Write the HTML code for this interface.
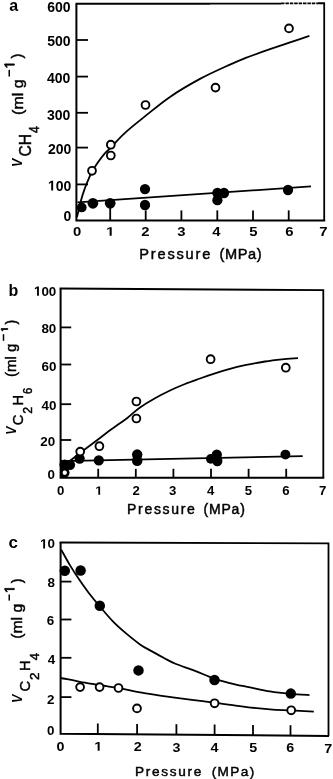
<!DOCTYPE html>
<html><head><meta charset="utf-8"><style>
html,body{margin:0;padding:0;background:#fff;width:333px;height:779px;overflow:hidden}
svg{display:block;filter:grayscale(1)}
text{font-family:"Liberation Sans",sans-serif;fill:#000}
</style></head><body>
<svg width="333" height="779" viewBox="0 0 333 779">
<rect width="333" height="779" fill="#fff"/>
<path d="M76.4,3.9 V220.5 H325.2" fill="none" stroke="#000" stroke-width="2.0"/>
<path d="M324.2,3.0 V220.5" fill="none" stroke="#000" stroke-width="1.8"/>
<path d="M75.5,3.7 H210 M210,3.6 H281 M318,3.3 H325" fill="none" stroke="#000" stroke-width="1.9"/>
<path d="M281,3.3 H318" fill="none" stroke="#000" stroke-width="1.8" stroke-dasharray="3.5 0.9"/>
<line x1="76.4" y1="184.4" x2="88.0" y2="184.4" stroke="#000" stroke-width="1.80"/>
<line x1="76.4" y1="147.6" x2="88.0" y2="147.6" stroke="#000" stroke-width="1.80"/>
<line x1="76.4" y1="112.8" x2="88.0" y2="112.8" stroke="#000" stroke-width="1.80"/>
<line x1="76.4" y1="76.6" x2="88.0" y2="76.6" stroke="#000" stroke-width="1.80"/>
<line x1="76.4" y1="40.0" x2="88.0" y2="40.0" stroke="#000" stroke-width="1.80"/>
<line x1="110.2" y1="220.5" x2="110.2" y2="207.5" stroke="#000" stroke-width="1.80"/>
<line x1="145.7" y1="220.5" x2="145.7" y2="210.4" stroke="#000" stroke-width="1.80"/>
<line x1="181.4" y1="220.5" x2="181.4" y2="210.4" stroke="#000" stroke-width="1.80"/>
<line x1="217.3" y1="220.5" x2="217.3" y2="210.4" stroke="#000" stroke-width="1.80"/>
<line x1="253.0" y1="220.5" x2="253.0" y2="210.4" stroke="#000" stroke-width="1.80"/>
<line x1="288.7" y1="220.5" x2="288.7" y2="210.4" stroke="#000" stroke-width="1.80"/>
<g transform="translate(70.60,11.60) scale(1.000,1)">
<text x="0.0" y="0.0" font-size="14.0" font-weight="bold" text-anchor="end" >600</text>
</g>
<g transform="translate(70.60,46.40) scale(1.000,1)">
<text x="0.0" y="0.0" font-size="14.0" font-weight="bold" text-anchor="end" >500</text>
</g>
<g transform="translate(70.30,83.10) scale(1.000,1)">
<text x="0.0" y="0.0" font-size="14.0" font-weight="bold" text-anchor="end" >400</text>
</g>
<g transform="translate(70.30,119.60) scale(1.000,1)">
<text x="0.0" y="0.0" font-size="14.0" font-weight="bold" text-anchor="end" >300</text>
</g>
<g transform="translate(71.30,153.70) scale(1.000,1)">
<text x="0.0" y="0.0" font-size="14.0" font-weight="bold" text-anchor="end" >200</text>
</g>
<g transform="translate(71.30,190.50) scale(1.000,1)">
<text x="0.0" y="0.0" font-size="14.0" font-weight="bold" text-anchor="end" >&#8199;00</text>
<path d="M-20.09,0.00 L-20.09,-8.00 L-22.40,-6.56 L-22.40,-8.07 L-19.99,-9.63 L-18.17,-9.63 L-18.17,0.00 Z" fill="#000"/>
</g>
<g transform="translate(71.30,220.50) scale(1.000,1)">
<text x="0.0" y="0.0" font-size="14.0" font-weight="bold" text-anchor="end" >0</text>
</g>
<g transform="translate(77.25,235.80) scale(1.180,1)">
<text x="0.0" y="0.0" font-size="12.6" font-weight="bold" text-anchor="middle" >0</text>
</g>
<g transform="translate(110.30,235.80) scale(1.180,1)">
<path d="M-0.56,0.00 L-0.56,-7.20 L-2.64,-5.90 L-2.64,-7.26 L-0.47,-8.67 L1.17,-8.67 L1.17,0.00 Z" fill="#000"/>
</g>
<g transform="translate(145.30,235.80) scale(1.180,1)">
<text x="0.0" y="0.0" font-size="12.6" font-weight="bold" text-anchor="middle" >2</text>
</g>
<g transform="translate(181.50,235.80) scale(1.180,1)">
<text x="0.0" y="0.0" font-size="12.6" font-weight="bold" text-anchor="middle" >3</text>
</g>
<g transform="translate(216.40,235.80) scale(1.180,1)">
<text x="0.0" y="0.0" font-size="12.6" font-weight="bold" text-anchor="middle" >4</text>
</g>
<g transform="translate(253.50,235.80) scale(1.180,1)">
<text x="0.0" y="0.0" font-size="12.6" font-weight="bold" text-anchor="middle" >5</text>
</g>
<g transform="translate(289.45,235.80) scale(1.180,1)">
<text x="0.0" y="0.0" font-size="12.6" font-weight="bold" text-anchor="middle" >6</text>
</g>
<g transform="translate(323.40,235.80) scale(1.180,1)">
<text x="0.0" y="0.0" font-size="12.6" font-weight="bold" text-anchor="middle" >7</text>
</g>
<text x="139.3" y="258.5" font-size="14.6" font-weight="normal" text-anchor="start" textLength="70.96" lengthAdjust="spacing" stroke="#000" stroke-width="0.45">Pressure</text>
<text x="219.5" y="258.5" font-size="14.6" font-weight="normal" text-anchor="start" textLength="42.2" lengthAdjust="spacing" stroke="#000" stroke-width="0.45">(MPa)</text>
<text x="9.2" y="11.0" font-size="16.0" font-weight="bold" text-anchor="start" >a</text>
<text transform="translate(21.7,167.0) rotate(-90)" font-size="15.0" font-weight="bold" font-style="italic" textLength="8.3" lengthAdjust="spacingAndGlyphs">V</text>
<text transform="translate(30.5,156.6) rotate(-90)" font-size="16.0" font-weight="normal" font-style="normal" textLength="22.6" lengthAdjust="spacingAndGlyphs" stroke="#000" stroke-width="0.45">CH</text>
<text transform="translate(38.5,133.0) rotate(-90)" font-size="14.5" font-weight="normal" font-style="normal" textLength="6.9" lengthAdjust="spacingAndGlyphs" stroke="#000" stroke-width="0.45">4</text>
<text transform="translate(23.2,114.9) rotate(-90)" font-size="14.5" font-weight="normal" font-style="normal" textLength="35.4" lengthAdjust="spacingAndGlyphs" stroke="#000" stroke-width="0.45">(ml g</text>
<rect x="8.50" y="69.90" width="1.50" height="6.60" fill="#000"/>
<path d="M14.30,65.13 L5.87,65.13 L7.42,67.30 L6.26,67.30 L4.70,65.03 L4.70,63.90 L14.30,63.90 Z" fill="#000" stroke="#000" stroke-width="0.80"/>
<text transform="translate(22.0,58.6) rotate(-90)" font-size="14.5" font-weight="normal" font-style="normal" stroke="#000" stroke-width="0.45">)</text>
<path d="M77.0,217.0 C77.7,214.1 79.9,204.4 81.2,199.7 C82.5,194.9 83.5,192.2 84.8,188.5 C86.1,184.8 88.1,180.2 89.3,177.4 C90.5,174.6 90.5,174.0 92.0,171.5 C93.5,169.0 96.0,165.2 98.0,162.3 C100.0,159.4 101.9,156.7 104.0,154.3 C106.1,151.9 107.0,151.4 110.5,147.8 C114.0,144.2 119.2,138.1 125.0,132.8 C130.8,127.5 138.0,121.9 145.5,115.9 C153.0,109.9 160.9,103.1 170.0,96.9 C179.1,90.7 190.0,84.3 200.0,78.9 C210.0,73.5 222.5,68.0 230.0,64.6 C237.5,61.1 238.3,60.8 245.0,58.2 C251.7,55.6 262.5,51.8 270.0,49.2 C277.5,46.6 283.4,44.6 290.0,42.4 C296.6,40.2 306.2,37.0 309.4,35.9" fill="none" stroke="#000" stroke-width="1.80"/>
<line x1="77.5" y1="202.3" x2="311.0" y2="186.4" stroke="#000" stroke-width="1.80"/>
<circle cx="81.7" cy="207.4" r="4.92" fill="#000"/>
<circle cx="92.9" cy="203.3" r="5.35" fill="#000"/>
<circle cx="110.2" cy="203.3" r="5.35" fill="#000"/>
<circle cx="145.0" cy="189.1" r="5.14" fill="#000"/>
<circle cx="145.0" cy="205.0" r="5.14" fill="#000"/>
<circle cx="217.4" cy="193.0" r="5.14" fill="#000"/>
<circle cx="217.4" cy="200.2" r="5.14" fill="#000"/>
<circle cx="224.0" cy="193.0" r="5.14" fill="#000"/>
<circle cx="288.0" cy="190.0" r="5.14" fill="#000"/>
<circle cx="92.0" cy="170.8" r="3.90" fill="#fff" stroke="#000" stroke-width="1.90"/>
<circle cx="110.8" cy="144.7" r="3.90" fill="#fff" stroke="#000" stroke-width="1.90"/>
<circle cx="110.8" cy="155.5" r="3.90" fill="#fff" stroke="#000" stroke-width="1.90"/>
<circle cx="145.5" cy="105.0" r="3.90" fill="#fff" stroke="#000" stroke-width="1.90"/>
<circle cx="215.5" cy="87.6" r="3.90" fill="#fff" stroke="#000" stroke-width="1.90"/>
<circle cx="289.0" cy="28.4" r="3.90" fill="#fff" stroke="#000" stroke-width="1.90"/>
<path d="M60.6,288.5 V477.8 H324.3" fill="none" stroke="#000" stroke-width="2.0"/>
<path d="M59.6,288.5 L323.3,290.2 V477.8" fill="none" stroke="#000" stroke-width="1.8"/>
<line x1="60.6" y1="440.0" x2="71.2" y2="440.0" stroke="#000" stroke-width="1.80"/>
<line x1="60.6" y1="404.2" x2="71.2" y2="404.2" stroke="#000" stroke-width="1.80"/>
<line x1="60.6" y1="364.5" x2="71.2" y2="364.5" stroke="#000" stroke-width="1.80"/>
<line x1="60.6" y1="327.4" x2="71.2" y2="327.4" stroke="#000" stroke-width="1.80"/>
<line x1="98.2" y1="477.8" x2="98.2" y2="468.8" stroke="#000" stroke-width="1.80"/>
<line x1="135.8" y1="477.8" x2="135.8" y2="468.8" stroke="#000" stroke-width="1.80"/>
<line x1="173.4" y1="477.8" x2="173.4" y2="468.8" stroke="#000" stroke-width="1.80"/>
<line x1="211.0" y1="477.8" x2="211.0" y2="468.8" stroke="#000" stroke-width="1.80"/>
<line x1="248.6" y1="477.8" x2="248.6" y2="468.8" stroke="#000" stroke-width="1.80"/>
<line x1="286.2" y1="477.8" x2="286.2" y2="468.8" stroke="#000" stroke-width="1.80"/>
<g transform="translate(56.30,295.80) scale(1.000,1)">
<text x="0.0" y="0.0" font-size="13.4" font-weight="bold" text-anchor="end" >&#8199;00</text>
<path d="M-19.23,0.00 L-19.23,-7.66 L-21.44,-6.27 L-21.44,-7.72 L-19.13,-9.22 L-17.39,-9.22 L-17.39,0.00 Z" fill="#000"/>
</g>
<g transform="translate(56.30,332.90) scale(1.000,1)">
<text x="0.0" y="0.0" font-size="13.4" font-weight="bold" text-anchor="end" >80</text>
</g>
<g transform="translate(56.40,371.10) scale(1.000,1)">
<text x="0.0" y="0.0" font-size="13.4" font-weight="bold" text-anchor="end" >60</text>
</g>
<g transform="translate(56.40,409.90) scale(1.000,1)">
<text x="0.0" y="0.0" font-size="13.4" font-weight="bold" text-anchor="end" >40</text>
</g>
<g transform="translate(55.20,445.70) scale(1.000,1)">
<text x="0.0" y="0.0" font-size="13.4" font-weight="bold" text-anchor="end" >20</text>
</g>
<g transform="translate(55.00,479.40) scale(1.000,1)">
<text x="0.0" y="0.0" font-size="13.4" font-weight="bold" text-anchor="end" >0</text>
</g>
<g transform="translate(60.55,494.70) scale(1.100,1)">
<text x="0.0" y="0.0" font-size="12.0" font-weight="bold" text-anchor="middle" >0</text>
</g>
<g transform="translate(98.90,494.70) scale(1.100,1)">
<path d="M-0.54,0.00 L-0.54,-6.86 L-2.52,-5.62 L-2.52,-6.91 L-0.45,-8.26 L1.11,-8.26 L1.11,0.00 Z" fill="#000"/>
</g>
<g transform="translate(136.10,494.70) scale(1.100,1)">
<text x="0.0" y="0.0" font-size="12.0" font-weight="bold" text-anchor="middle" >2</text>
</g>
<g transform="translate(172.70,494.70) scale(1.100,1)">
<text x="0.0" y="0.0" font-size="12.0" font-weight="bold" text-anchor="middle" >3</text>
</g>
<g transform="translate(210.60,494.70) scale(1.100,1)">
<text x="0.0" y="0.0" font-size="12.0" font-weight="bold" text-anchor="middle" >4</text>
</g>
<g transform="translate(248.40,494.70) scale(1.100,1)">
<text x="0.0" y="0.0" font-size="12.0" font-weight="bold" text-anchor="middle" >5</text>
</g>
<g transform="translate(285.90,494.70) scale(1.100,1)">
<text x="0.0" y="0.0" font-size="12.0" font-weight="bold" text-anchor="middle" >6</text>
</g>
<g transform="translate(322.65,494.70) scale(1.100,1)">
<text x="0.0" y="0.0" font-size="12.0" font-weight="bold" text-anchor="middle" >7</text>
</g>
<text x="127.1" y="513.9" font-size="14.0" font-weight="normal" text-anchor="start" textLength="67.8" lengthAdjust="spacing" stroke="#000" stroke-width="0.45">Pressure</text>
<text x="203.5" y="513.9" font-size="14.0" font-weight="normal" text-anchor="start" textLength="41.4" lengthAdjust="spacing" stroke="#000" stroke-width="0.45">(MPa)</text>
<text x="8.5" y="295.5" font-size="16.0" font-weight="bold" text-anchor="start" >b</text>
<text transform="translate(15.6,434.8) rotate(-90)" font-size="14.5" font-weight="bold" font-style="italic" textLength="8.2" lengthAdjust="spacingAndGlyphs">V</text>
<text transform="translate(23.1,425.2) rotate(-90)" font-size="15.0" font-weight="normal" font-style="normal" textLength="10.6" lengthAdjust="spacingAndGlyphs" stroke="#000" stroke-width="0.45">C</text>
<text transform="translate(31.9,413.8) rotate(-90)" font-size="13.5" font-weight="normal" font-style="normal" textLength="6.9" lengthAdjust="spacingAndGlyphs" stroke="#000" stroke-width="0.45">2</text>
<text transform="translate(23.1,405.6) rotate(-90)" font-size="15.0" font-weight="normal" font-style="normal" textLength="10.6" lengthAdjust="spacingAndGlyphs" stroke="#000" stroke-width="0.45">H</text>
<text transform="translate(31.9,394.1) rotate(-90)" font-size="13.5" font-weight="normal" font-style="normal" textLength="6.2" lengthAdjust="spacingAndGlyphs" stroke="#000" stroke-width="0.45">6</text>
<text transform="translate(16.3,377.1) rotate(-90)" font-size="15.0" font-weight="normal" font-style="normal" textLength="33.5" lengthAdjust="spacingAndGlyphs" stroke="#000" stroke-width="0.45">(ml g</text>
<rect x="2.75" y="334.20" width="1.50" height="6.60" fill="#000"/>
<path d="M7.80,329.45 L2.01,329.45 L3.07,330.94 L2.27,330.94 L1.20,329.38 L1.20,328.60 L7.80,328.60 Z" fill="#000" stroke="#000" stroke-width="0.80"/>
<text transform="translate(15.5,324.4) rotate(-90)" font-size="14.0" font-weight="normal" font-style="normal" stroke="#000" stroke-width="0.45">)</text>
<path d="M61.5,466.5 C62.6,465.8 65.9,464.0 68.0,462.5 C70.1,461.0 72.0,459.3 74.0,457.6 C76.0,455.9 78.1,453.8 80.0,452.4 C81.9,451.0 82.8,450.8 85.3,449.0 C87.8,447.2 91.2,444.7 95.0,441.8 C98.8,438.9 104.7,434.3 108.0,431.8 C111.3,429.3 111.8,429.1 115.0,426.8 C118.2,424.5 122.8,421.4 127.0,418.2 C131.2,415.0 135.3,410.8 140.0,407.5 C144.7,404.2 150.0,401.0 155.0,398.2 C160.0,395.4 165.0,392.9 170.0,390.5 C175.0,388.1 180.0,386.0 185.0,384.0 C190.0,382.0 195.0,380.3 200.0,378.5 C205.0,376.7 210.0,375.0 215.0,373.4 C220.0,371.8 225.0,370.2 230.0,368.8 C235.0,367.4 239.2,366.4 245.0,365.2 C250.8,364.0 258.8,362.5 265.0,361.5 C271.2,360.5 276.5,359.9 282.0,359.3 C287.5,358.8 295.3,358.4 298.0,358.2" fill="none" stroke="#000" stroke-width="1.80"/>
<line x1="61.0" y1="461.2" x2="302.7" y2="456.2" stroke="#000" stroke-width="1.80"/>
<circle cx="64.6" cy="464.6" r="5.14" fill="#000"/>
<circle cx="70.0" cy="464.8" r="5.14" fill="#000"/>
<circle cx="79.6" cy="458.6" r="5.14" fill="#000"/>
<circle cx="98.8" cy="460.3" r="5.14" fill="#000"/>
<circle cx="137.2" cy="454.6" r="5.24" fill="#000"/>
<circle cx="137.2" cy="460.8" r="5.24" fill="#000"/>
<circle cx="210.8" cy="458.9" r="4.82" fill="#000"/>
<circle cx="216.8" cy="454.7" r="5.14" fill="#000"/>
<circle cx="217.3" cy="461.0" r="5.14" fill="#000"/>
<circle cx="285.4" cy="454.6" r="4.92" fill="#000"/>
<circle cx="64.7" cy="472.7" r="3.90" fill="#fff" stroke="#000" stroke-width="1.90"/>
<circle cx="80.2" cy="451.6" r="3.90" fill="#fff" stroke="#000" stroke-width="1.90"/>
<circle cx="99.4" cy="446.2" r="3.90" fill="#fff" stroke="#000" stroke-width="1.90"/>
<circle cx="136.4" cy="401.5" r="3.90" fill="#fff" stroke="#000" stroke-width="1.90"/>
<circle cx="136.4" cy="418.5" r="3.90" fill="#fff" stroke="#000" stroke-width="1.90"/>
<circle cx="210.6" cy="359.2" r="3.90" fill="#fff" stroke="#000" stroke-width="1.90"/>
<circle cx="285.8" cy="367.7" r="3.90" fill="#fff" stroke="#000" stroke-width="1.90"/>
<rect x="60" y="460.5" width="8" height="8.5" fill="#000"/>
<path d="M60,466 H62.5 V477 H60 Z" fill="#000"/>
<circle cx="64.7" cy="472.7" r="3.3" fill="none" stroke="#000" stroke-width="2.4"/>
<circle cx="64.7" cy="472.7" r="1.9" fill="#fff"/>
<path d="M60.6,542.5 V733.7 L329.0,736.0" fill="none" stroke="#000" stroke-width="2.0"/>
<path d="M59.6,542.5 L328.5,543.4 V736.0" fill="none" stroke="#000" stroke-width="1.8"/>
<line x1="60.6" y1="697.1" x2="71.4" y2="697.1" stroke="#000" stroke-width="1.80"/>
<line x1="60.6" y1="657.8" x2="71.4" y2="657.8" stroke="#000" stroke-width="1.80"/>
<line x1="60.6" y1="619.5" x2="71.4" y2="619.5" stroke="#000" stroke-width="1.80"/>
<line x1="60.6" y1="581.6" x2="71.4" y2="581.6" stroke="#000" stroke-width="1.80"/>
<line x1="97.8" y1="734.0" x2="97.8" y2="723.5" stroke="#000" stroke-width="1.80"/>
<line x1="137.1" y1="734.4" x2="137.1" y2="723.9" stroke="#000" stroke-width="1.80"/>
<line x1="176.4" y1="734.7" x2="176.4" y2="724.2" stroke="#000" stroke-width="1.80"/>
<line x1="214.6" y1="735.0" x2="214.6" y2="724.5" stroke="#000" stroke-width="1.80"/>
<line x1="253.0" y1="735.4" x2="253.0" y2="724.9" stroke="#000" stroke-width="1.80"/>
<line x1="290.5" y1="735.7" x2="290.5" y2="725.2" stroke="#000" stroke-width="1.80"/>
<g transform="translate(55.00,548.40) scale(1.000,1)">
<text x="0.0" y="0.0" font-size="13.4" font-weight="bold" text-anchor="end" >&#8199;0</text>
<path d="M-11.78,0.00 L-11.78,-7.66 L-13.99,-6.27 L-13.99,-7.72 L-11.68,-9.22 L-9.94,-9.22 L-9.94,0.00 Z" fill="#000"/>
</g>
<g transform="translate(55.00,587.10) scale(1.000,1)">
<text x="0.0" y="0.0" font-size="13.4" font-weight="bold" text-anchor="end" >8</text>
</g>
<g transform="translate(54.30,625.10) scale(1.000,1)">
<text x="0.0" y="0.0" font-size="13.4" font-weight="bold" text-anchor="end" >6</text>
</g>
<g transform="translate(55.20,664.20) scale(1.000,1)">
<text x="0.0" y="0.0" font-size="13.4" font-weight="bold" text-anchor="end" >4</text>
</g>
<g transform="translate(54.40,703.50) scale(1.000,1)">
<text x="0.0" y="0.0" font-size="13.4" font-weight="bold" text-anchor="end" >2</text>
</g>
<g transform="translate(54.40,735.40) scale(1.000,1)">
<text x="0.0" y="0.0" font-size="13.4" font-weight="bold" text-anchor="end" >0</text>
</g>
<g transform="translate(60.50,750.50) scale(1.100,1)">
<text x="0.0" y="0.0" font-size="13.0" font-weight="bold" text-anchor="middle" >0</text>
</g>
<g transform="translate(98.30,750.82) scale(1.100,1)">
<path d="M-0.58,0.00 L-0.58,-7.43 L-2.73,-6.09 L-2.73,-7.49 L-0.49,-8.94 L1.20,-8.94 L1.20,0.00 Z" fill="#000"/>
</g>
<g transform="translate(137.60,751.16) scale(1.100,1)">
<text x="0.0" y="0.0" font-size="13.0" font-weight="bold" text-anchor="middle" >2</text>
</g>
<g transform="translate(176.50,751.50) scale(1.100,1)">
<text x="0.0" y="0.0" font-size="13.0" font-weight="bold" text-anchor="middle" >3</text>
</g>
<g transform="translate(214.40,751.82) scale(1.100,1)">
<text x="0.0" y="0.0" font-size="13.0" font-weight="bold" text-anchor="middle" >4</text>
</g>
<g transform="translate(253.20,752.15) scale(1.100,1)">
<text x="0.0" y="0.0" font-size="13.0" font-weight="bold" text-anchor="middle" >5</text>
</g>
<g transform="translate(290.10,752.47) scale(1.100,1)">
<text x="0.0" y="0.0" font-size="13.0" font-weight="bold" text-anchor="middle" >6</text>
</g>
<g transform="translate(328.20,752.80) scale(1.100,1)">
<text x="0.0" y="0.0" font-size="13.0" font-weight="bold" text-anchor="middle" >7</text>
</g>
<text x="135.0" y="775.7" font-size="13.6" font-weight="normal" text-anchor="start" textLength="66.4" lengthAdjust="spacing" stroke="#000" stroke-width="0.45">Pressure</text>
<text x="211.7" y="775.7" font-size="13.6" font-weight="normal" text-anchor="start" textLength="42.6" lengthAdjust="spacing" stroke="#000" stroke-width="0.45">(MPa)</text>
<text x="8.6" y="548.0" font-size="17.0" font-weight="bold" text-anchor="start" >c</text>
<text transform="translate(21.7,702.9) rotate(-90)" font-size="14.5" font-weight="bold" font-style="italic" textLength="8.4" lengthAdjust="spacingAndGlyphs">V</text>
<text transform="translate(29.8,691.4) rotate(-90)" font-size="15.0" font-weight="normal" font-style="normal" textLength="10.6" lengthAdjust="spacingAndGlyphs" stroke="#000" stroke-width="0.45">C</text>
<text transform="translate(38.5,680.1) rotate(-90)" font-size="13.5" font-weight="normal" font-style="normal" textLength="7.5" lengthAdjust="spacingAndGlyphs" stroke="#000" stroke-width="0.45">2</text>
<text transform="translate(29.8,671.1) rotate(-90)" font-size="15.0" font-weight="normal" font-style="normal" textLength="10.6" lengthAdjust="spacingAndGlyphs" stroke="#000" stroke-width="0.45">H</text>
<text transform="translate(38.5,660.3) rotate(-90)" font-size="13.5" font-weight="normal" font-style="normal" textLength="7.3" lengthAdjust="spacingAndGlyphs" stroke="#000" stroke-width="0.45">4</text>
<text transform="translate(22.4,638.7) rotate(-90)" font-size="14.5" font-weight="normal" font-style="normal" textLength="34.9" lengthAdjust="spacingAndGlyphs" stroke="#000" stroke-width="0.45">(ml g</text>
<rect x="8.50" y="594.50" width="1.50" height="6.10" fill="#000"/>
<path d="M14.30,589.63 L5.87,589.63 L7.42,591.80 L6.26,591.80 L4.70,589.53 L4.70,588.40 L14.30,588.40 Z" fill="#000" stroke="#000" stroke-width="0.80"/>
<text transform="translate(21.5,583.2) rotate(-90)" font-size="14.0" font-weight="normal" font-style="normal" stroke="#000" stroke-width="0.45">)</text>
<path d="M61.2,549.6 C62.6,552.1 66.6,559.6 69.6,564.6 C72.6,569.6 76.0,574.9 79.2,579.6 C82.4,584.3 85.4,588.6 88.8,593.0 C92.2,597.4 95.6,601.5 99.6,606.2 C103.6,610.9 108.7,617.0 112.9,621.4 C117.1,625.8 120.4,628.6 124.9,632.4 C129.4,636.2 135.5,641.2 140.0,644.4 C144.5,647.6 148.0,649.1 152.0,651.4 C156.0,653.7 160.0,655.9 164.0,658.0 C168.0,660.1 170.8,661.9 176.0,664.0 C181.2,666.1 188.6,668.3 195.0,670.8 C201.4,673.3 207.9,676.5 214.6,678.8 C221.3,681.0 229.1,682.9 235.0,684.3 C240.9,685.7 244.2,686.1 250.0,687.3 C255.8,688.5 263.3,690.3 270.0,691.4 C276.7,692.5 283.4,693.2 290.0,693.8 C296.6,694.4 306.2,694.9 309.5,695.1" fill="none" stroke="#000" stroke-width="1.80"/>
<path d="M61.0,678.0 C64.2,678.6 73.5,680.6 80.0,681.8 C86.5,683.0 93.3,683.9 100.0,685.0 C106.7,686.1 113.3,687.1 120.0,688.3 C126.7,689.5 133.3,691.1 140.0,692.3 C146.7,693.5 151.7,694.4 160.0,695.6 C168.3,696.8 180.8,698.4 190.0,699.6 C199.2,700.8 205.8,701.6 215.0,702.8 C224.2,704.0 235.8,705.7 245.0,706.8 C254.2,707.9 262.3,708.7 270.0,709.3 C277.7,709.9 283.7,710.0 291.0,710.4 C298.3,710.8 310.0,711.4 313.8,711.6" fill="none" stroke="#000" stroke-width="1.80"/>
<circle cx="64.8" cy="570.8" r="5.24" fill="#000"/>
<circle cx="80.6" cy="570.5" r="5.24" fill="#000"/>
<circle cx="99.8" cy="605.8" r="5.24" fill="#000"/>
<circle cx="138.5" cy="670.4" r="5.24" fill="#000"/>
<circle cx="214.5" cy="680.0" r="5.24" fill="#000"/>
<circle cx="290.8" cy="693.6" r="5.24" fill="#000"/>
<circle cx="80.1" cy="687.1" r="3.90" fill="#fff" stroke="#000" stroke-width="1.90"/>
<circle cx="99.6" cy="687.1" r="3.90" fill="#fff" stroke="#000" stroke-width="1.90"/>
<circle cx="118.5" cy="688.0" r="3.90" fill="#fff" stroke="#000" stroke-width="1.90"/>
<circle cx="137.0" cy="708.4" r="3.90" fill="#fff" stroke="#000" stroke-width="1.90"/>
<circle cx="214.6" cy="703.3" r="3.90" fill="#fff" stroke="#000" stroke-width="1.90"/>
<circle cx="291.2" cy="710.3" r="3.90" fill="#fff" stroke="#000" stroke-width="1.90"/>
</svg>
</body></html>
